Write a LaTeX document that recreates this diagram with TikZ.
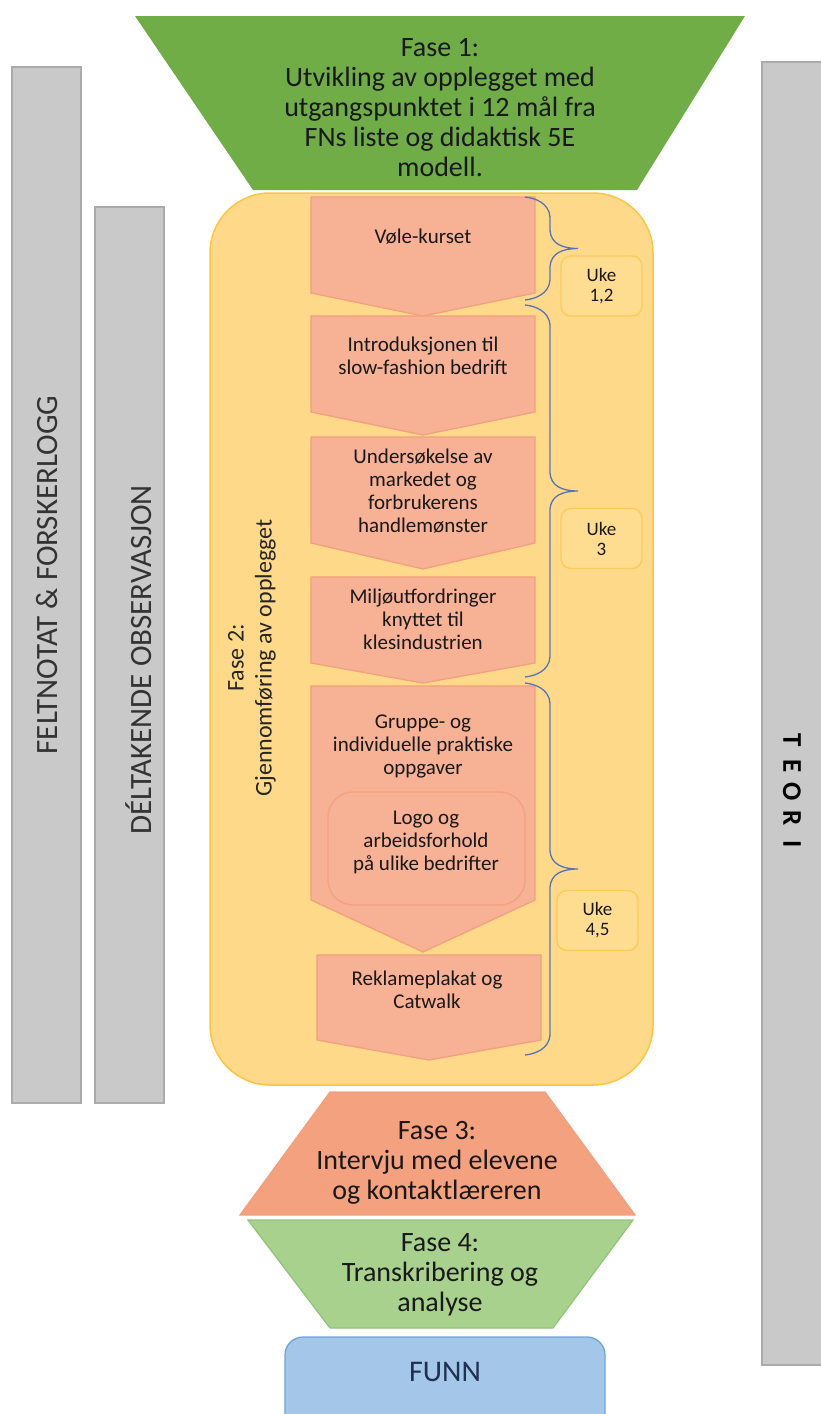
\documentclass[tikz,border=0pt]{standalone}
\usepackage{fontspec}
\setmainfont{Carlito}
\usetikzlibrary{calc}

\definecolor{fasegreen}{HTML}{70AD47}
\definecolor{lightgreen}{HTML}{A9D18E}
\definecolor{lightgreendraw}{HTML}{93C47A}
\definecolor{goldfill}{HTML}{FFD98A}
\definecolor{golddraw}{HTML}{FCC542}
\definecolor{ukefill}{HTML}{FFDD90}
\definecolor{ukedraw}{HTML}{FCCB55}
\definecolor{salmonfill}{HTML}{F7B195}
\definecolor{salmondraw}{HTML}{F2A07E}
\definecolor{salmondark}{HTML}{F4A17F}
\definecolor{barfill}{HTML}{C9C9C9}
\definecolor{bardraw}{HTML}{ABABAB}
\definecolor{funnfill}{HTML}{A4C6E8}
\definecolor{funndraw}{HTML}{6FA3D8}
\definecolor{funntext}{HTML}{1F3050}
\definecolor{bracecol}{HTML}{5574B8}

\begin{document}
\begin{tikzpicture}[x=1pt, y=-1pt,
    bar/.style={fill=barfill, draw=bardraw, line width=1.5pt},
    bartext/.style={rotate=90, text=black!80, font=\fontsize{31}{34}\selectfont},
    chev/.style={fill=salmonfill, draw=salmondraw, line width=1.3pt},
    chevtext/.style={align=center, text=black!90, font=\fontsize{21}{23}\selectfont},
    ukebox/.style={fill=ukefill, draw=ukedraw, line width=1.3pt, rounded corners=10pt,
        minimum width=81pt, minimum height=60pt, align=center, text=black!90,
        font=\fontsize{19}{20}\selectfont},
    fasetext/.style={align=center, text=black!90, font=\fontsize{28}{30}\selectfont},
    brace/.style={draw=bracecol, line width=1.3pt},
]
    \useasboundingbox (0,0) rectangle (821,1414);
    \clip (0,0) rectangle (821,1414);

    % side bars
    \draw[bar] (12,67) rectangle (81,1103);
    \draw[bar] (95,207) rectangle (164,1103);
    \draw[bar] (762,62) rectangle (830,1365);
    \node[bartext] (feltnotat) at (47,575) {FELTNOTAT \& FORSKERLOGG};
    \node[bartext] (deltakende) at (139,660) {DÉLTAKENDE OBSERVASJON};
    \foreach \l [count=\i] in {T,E,O,R,I}
        \node[rotate=-90, text=black, font=\bfseries\fontsize{27}{27}\selectfont] (teori\i) at (792,714+26*\i) {\l};

    % fase 1
    \fill[fasegreen] (135,16) -- (745,16) -- (637,190) -- (253,190) -- cycle;
    \node[fasetext] (fase1) at (440,108) {Fase 1:\\Utvikling av opplegget med\\utgangspunktet i 12 mål fra\\FNs liste og didaktisk 5E\\modell.};

    % fase 2
    \draw[fill=goldfill, draw=golddraw, line width=1.5pt, rounded corners=60pt] (210,193) rectangle (653,1085);
    \node[rotate=90, align=center, text=black!85, font=\fontsize{24}{28}\selectfont] (fase2) at (252,658)
        {Fase 2:\\Gjennomføring av opplegget};

    \draw[chev] (311,197) -- (535,197) -- (535,293) -- (423,316) -- (311,293) -- cycle;
    \draw[chev] (311,316) -- (535,316) -- (535,412) -- (423,435) -- (311,412) -- cycle;
    \draw[chev] (311,437) -- (535,437) -- (535,543) -- (423,569) -- (311,543) -- cycle;
    \draw[chev] (311,577) -- (535,577) -- (535,663) -- (423,683) -- (311,663) -- cycle;
    \draw[chev] (311,686) -- (535,686) -- (535,900) -- (423,952) -- (311,900) -- cycle;
    \draw[chev] (317,955) -- (541,955) -- (541,1040) -- (429,1060) -- (317,1040) -- cycle;
    \draw[fill=salmonfill, draw=salmondark, line width=1.3pt, rounded corners=25pt] (328,792) rectangle (525,905);

    \node[chevtext] (vole) at (423,237) {Vøle-kurset};
    \node[chevtext] (intro) at (423,356) {Introduksjonen til\\slow-fashion bedrift};
    \node[chevtext] (marked) at (423,491) {Undersøkelse av\\markedet og\\forbrukerens\\handlemønster};
    \node[chevtext] (miljo) at (423,619) {Miljøutfordringer\\knyttet til\\klesindustrien};
    \node[chevtext] (gruppe) at (423,746) {Gruppe- og\\individuelle praktiske\\oppgaver};
    \node[chevtext] (logo) at (426,842) {Logo og\\arbeidsforhold\\på ulike bedrifter};
    \node[chevtext] (reklame) at (427,990) {Reklameplakat og\\Catwalk};

    % braces and weeks
    \foreach \ya/\yb in {197/300, 305/677, 683/1055} {
        \pgfmathsetmacro\ym{(\ya+\yb)/2}
        \draw[brace] (525,\ya) .. controls (535,\ya+1) and (549,\ya+6) .. (550,\ya+20)
            -- (550,\ym-18) .. controls (551,\ym-5) and (562,\ym) .. (578,\ym)
            .. controls (562,\ym) and (551,\ym+5) .. (550,\ym+18)
            -- (550,\yb-20) .. controls (549,\yb-6) and (535,\yb-1) .. (525,\yb);
    }
    \node[ukebox] (uke1) at (601.5,286) {Uke\\1,2};
    \node[ukebox] (uke2) at (601.5,538.5) {Uke\\3};
    \node[ukebox] (uke3) at (597.5,920.5) {Uke\\4,5};

    % fase 3 and 4
    \draw[fill=salmondark, draw=salmondraw, line width=1.3pt] (330,1092) -- (545,1092) -- (635,1215) -- (240,1215) -- cycle;
    \node[fasetext] (fase3) at (437,1163) {Fase 3:\\Intervju med elevene\\og kontaktlæreren};
    \draw[fill=lightgreen, draw=lightgreendraw, line width=1.3pt] (248,1220) -- (633,1220) -- (553,1328) -- (330,1328) -- cycle;
    \node[fasetext] (fase4) at (440,1275) {Fase 4:\\Transkribering og\\analyse};

    % funn
    \draw[fill=funnfill, draw=funndraw, line width=1.3pt, rounded corners=18pt] (285,1337) rectangle (605,1450);
    \node[text=funntext, font=\fontsize{30}{30}\selectfont] (funn) at (445,1372) {FUNN};
\end{tikzpicture}
\end{document}
